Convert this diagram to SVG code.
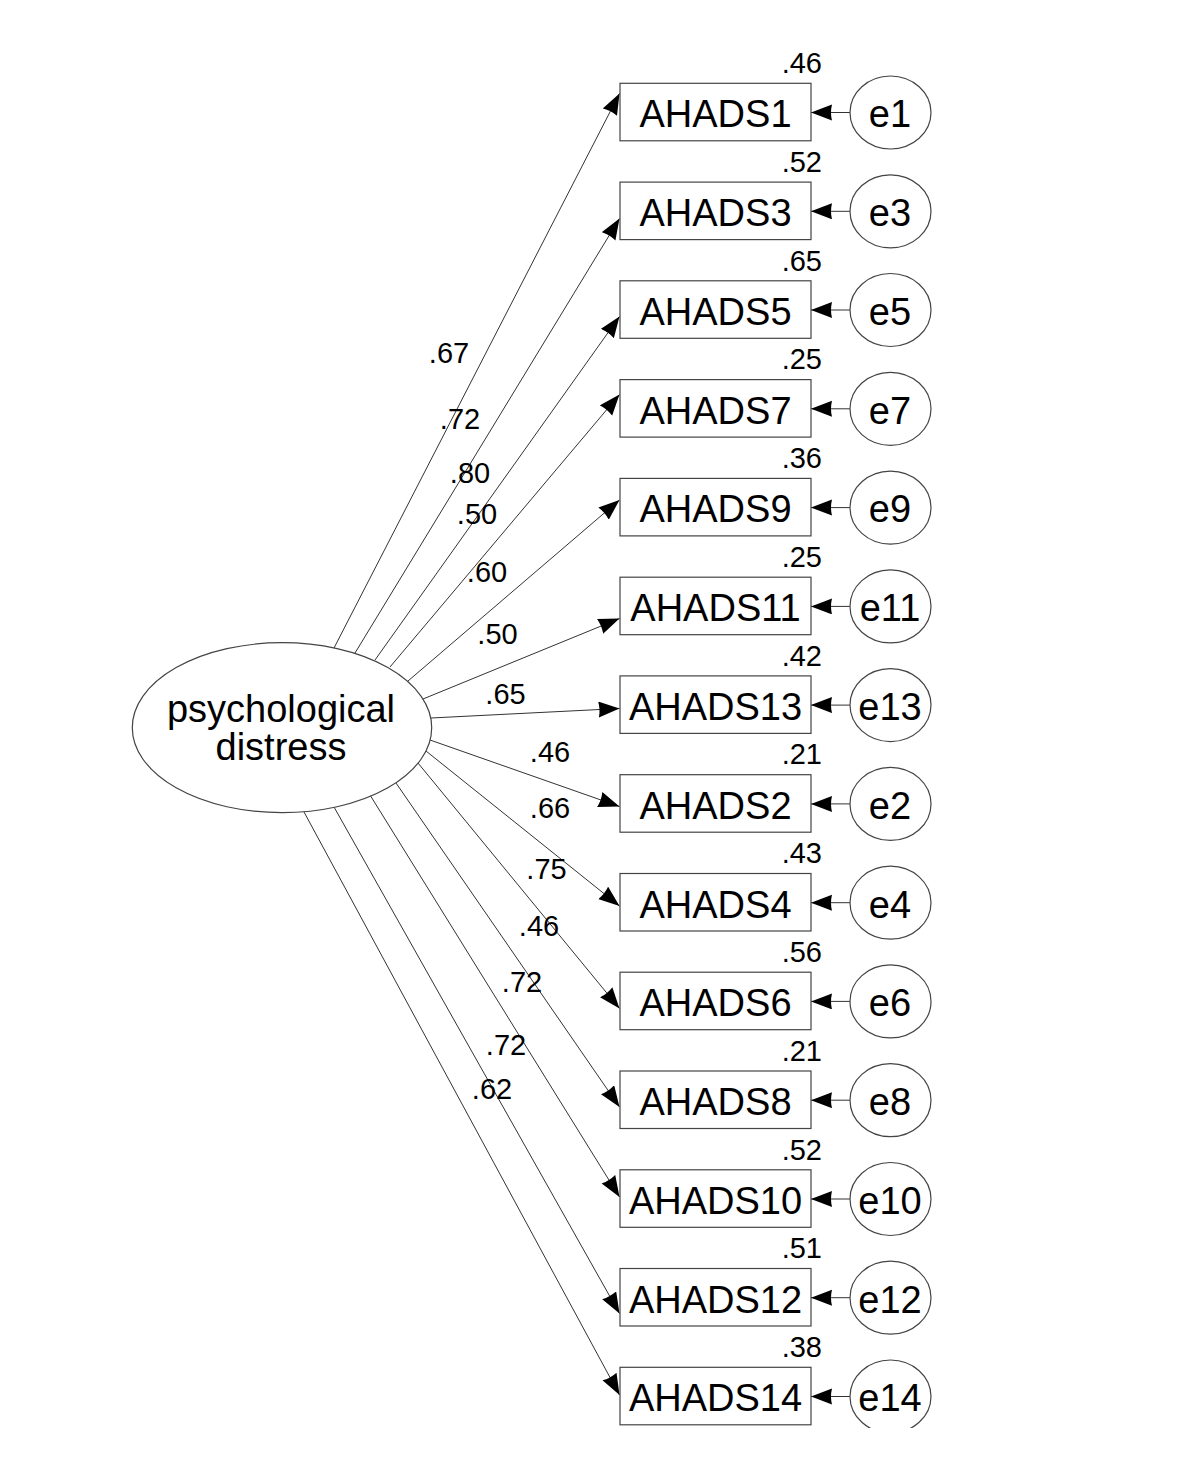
<svg xmlns="http://www.w3.org/2000/svg" width="1200" height="1480" viewBox="0 0 1200 1480">
<defs>
<style>
.box{fill:#fff;stroke:#444;stroke-width:1.2}
.err{fill:#fff;stroke:#444;stroke-width:1.2}
.lat{fill:#fff;stroke:#444;stroke-width:1.2}
.nm{font-family:"Liberation Sans",Arial,sans-serif;font-size:38px;fill:#000;text-anchor:middle}
.num{font-family:"Liberation Sans",Arial,sans-serif;font-size:29px;fill:#000;text-anchor:middle}
.r2{font-family:"Liberation Sans",Arial,sans-serif;font-size:29px;fill:#000;text-anchor:end}
.path{fill:none;stroke:#333;stroke-width:1;marker-end:url(#ah)}
</style>
<marker id="ah" markerUnits="userSpaceOnUse" markerWidth="22" markerHeight="18" refX="21" refY="8" orient="auto">
<path d="M0,0 L21,8 L0,16 Q2,8 0,0 z" fill="#000"/>
</marker>
<clipPath id="clipbottom"><rect x="0" y="0" width="1200" height="1428"/></clipPath>
</defs>
<rect width="1200" height="1480" fill="#fff"/>

<g id="connectors">
<line class="path" x1="334" y1="648" x2="619.5" y2="93.5"/>
<line class="path" x1="355" y1="653" x2="619.5" y2="218.5"/>
<line class="path" x1="375" y1="660" x2="619.5" y2="316.5"/>
<line class="path" x1="390" y1="667" x2="619.5" y2="394.5"/>
<line class="path" x1="408" y1="681" x2="619.5" y2="500"/>
<line class="path" x1="423" y1="699" x2="619.5" y2="618.5"/>
<line class="path" x1="431" y1="718" x2="619.5" y2="708.5"/>
<line class="path" x1="430" y1="740" x2="619.5" y2="806.5"/>
<line class="path" x1="426" y1="751" x2="619.5" y2="906"/>
<line class="path" x1="418" y1="763" x2="619.5" y2="1008.5"/>
<line class="path" x1="396" y1="783" x2="619.5" y2="1107"/>
<line class="path" x1="370" y1="795" x2="619.5" y2="1197"/>
<line class="path" x1="334" y1="807" x2="619.5" y2="1313.5"/>
<line class="path" x1="304" y1="812" x2="619.5" y2="1395"/>

<line class="path" x1="850" y1="112.5" x2="811" y2="112.5"/>
<line class="path" x1="850" y1="211.3" x2="811" y2="211.3"/>
<line class="path" x1="850" y1="310" x2="811" y2="310"/>
<line class="path" x1="850" y1="408.8" x2="811" y2="408.8"/>
<line class="path" x1="850" y1="507.6" x2="811" y2="507.6"/>
<line class="path" x1="850" y1="606.4" x2="811" y2="606.4"/>
<line class="path" x1="850" y1="705.1" x2="811" y2="705.1"/>
<line class="path" x1="850" y1="803.9" x2="811" y2="803.9"/>
<line class="path" x1="850" y1="902.7" x2="811" y2="902.7"/>
<line class="path" x1="850" y1="1001.4" x2="811" y2="1001.4"/>
<line class="path" x1="850" y1="1100.2" x2="811" y2="1100.2"/>
<line class="path" x1="850" y1="1199" x2="811" y2="1199"/>
<line class="path" x1="850" y1="1297.7" x2="811" y2="1297.7"/>
<line class="path" x1="850" y1="1396.5" x2="811" y2="1396.5"/>

<text class="num" x="449" y="363">.67</text>
<text class="num" x="460" y="429">.72</text>
<text class="num" x="470" y="483">.80</text>
<text class="num" x="477" y="524">.50</text>
<text class="num" x="487" y="582">.60</text>
<text class="num" x="497.5" y="644">.50</text>
<text class="num" x="505.5" y="704">.65</text>
<text class="num" x="550" y="762">.46</text>
<text class="num" x="550" y="818">.66</text>
<text class="num" x="546.5" y="879">.75</text>
<text class="num" x="539" y="936">.46</text>
<text class="num" x="522" y="992">.72</text>
<text class="num" x="506" y="1055">.72</text>
<text class="num" x="492" y="1099">.62</text>
</g>

<g id="psychological-distress">
<ellipse class="lat" cx="282" cy="727.7" rx="149.7" ry="85"/>
<text class="nm" x="281" y="722">psychological</text>
<text class="nm" x="281" y="759.5">distress</text>
</g>

<g id="AHADS1"><rect class="box" x="620" y="83.3" width="191" height="57.5"/><text class="nm" x="715.5" y="127.3">AHADS1</text><text class="r2" x="822" y="73">.46</text></g>
<g id="AHADS3"><rect class="box" x="620" y="182.1" width="191" height="57.5"/><text class="nm" x="715.5" y="226.1">AHADS3</text><text class="r2" x="822" y="171.8">.52</text></g>
<g id="AHADS5"><rect class="box" x="620" y="280.8" width="191" height="57.5"/><text class="nm" x="715.5" y="324.8">AHADS5</text><text class="r2" x="822" y="270.5">.65</text></g>
<g id="AHADS7"><rect class="box" x="620" y="379.6" width="191" height="57.5"/><text class="nm" x="715.5" y="423.6">AHADS7</text><text class="r2" x="822" y="369.3">.25</text></g>
<g id="AHADS9"><rect class="box" x="620" y="478.4" width="191" height="57.5"/><text class="nm" x="715.5" y="522.4">AHADS9</text><text class="r2" x="822" y="468.1">.36</text></g>
<g id="AHADS11"><rect class="box" x="620" y="577.2" width="191" height="57.5"/><text class="nm" x="715.5" y="621.2">AHADS11</text><text class="r2" x="822" y="566.9">.25</text></g>
<g id="AHADS13"><rect class="box" x="620" y="675.9" width="191" height="57.5"/><text class="nm" x="715.5" y="719.9">AHADS13</text><text class="r2" x="822" y="665.6">.42</text></g>
<g id="AHADS2"><rect class="box" x="620" y="774.7" width="191" height="57.5"/><text class="nm" x="715.5" y="818.7">AHADS2</text><text class="r2" x="822" y="764.4">.21</text></g>
<g id="AHADS4"><rect class="box" x="620" y="873.5" width="191" height="57.5"/><text class="nm" x="715.5" y="917.5">AHADS4</text><text class="r2" x="822" y="863.2">.43</text></g>
<g id="AHADS6"><rect class="box" x="620" y="972.2" width="191" height="57.5"/><text class="nm" x="715.5" y="1016.2">AHADS6</text><text class="r2" x="822" y="961.9">.56</text></g>
<g id="AHADS8"><rect class="box" x="620" y="1071" width="191" height="57.5"/><text class="nm" x="715.5" y="1115">AHADS8</text><text class="r2" x="822" y="1060.7">.21</text></g>
<g id="AHADS10"><rect class="box" x="620" y="1169.8" width="191" height="57.5"/><text class="nm" x="715.5" y="1213.8">AHADS10</text><text class="r2" x="822" y="1159.5">.52</text></g>
<g id="AHADS12"><rect class="box" x="620" y="1268.5" width="191" height="57.5"/><text class="nm" x="715.5" y="1312.5">AHADS12</text><text class="r2" x="822" y="1258.2">.51</text></g>
<g id="AHADS14"><rect class="box" x="620" y="1367.3" width="191" height="57.5"/><text class="nm" x="715.5" y="1411.3">AHADS14</text><text class="r2" x="822" y="1357">.38</text></g>

<g id="e1"><ellipse class="err" cx="890.5" cy="112.5" rx="40.5" ry="36.5"/><text class="nm" x="890" y="127.3">e1</text></g>
<g id="e3"><ellipse class="err" cx="890.5" cy="211.3" rx="40.5" ry="36.5"/><text class="nm" x="890" y="226.1">e3</text></g>
<g id="e5"><ellipse class="err" cx="890.5" cy="310" rx="40.5" ry="36.5"/><text class="nm" x="890" y="324.8">e5</text></g>
<g id="e7"><ellipse class="err" cx="890.5" cy="408.8" rx="40.5" ry="36.5"/><text class="nm" x="890" y="423.6">e7</text></g>
<g id="e9"><ellipse class="err" cx="890.5" cy="507.6" rx="40.5" ry="36.5"/><text class="nm" x="890" y="522.4">e9</text></g>
<g id="e11"><ellipse class="err" cx="890.5" cy="606.4" rx="40.5" ry="36.5"/><text class="nm" x="890" y="621.2">e11</text></g>
<g id="e13"><ellipse class="err" cx="890.5" cy="705.1" rx="40.5" ry="36.5"/><text class="nm" x="890" y="719.9">e13</text></g>
<g id="e2"><ellipse class="err" cx="890.5" cy="803.9" rx="40.5" ry="36.5"/><text class="nm" x="890" y="818.7">e2</text></g>
<g id="e4"><ellipse class="err" cx="890.5" cy="902.7" rx="40.5" ry="36.5"/><text class="nm" x="890" y="917.5">e4</text></g>
<g id="e6"><ellipse class="err" cx="890.5" cy="1001.4" rx="40.5" ry="36.5"/><text class="nm" x="890" y="1016.2">e6</text></g>
<g id="e8"><ellipse class="err" cx="890.5" cy="1100.2" rx="40.5" ry="36.5"/><text class="nm" x="890" y="1115">e8</text></g>
<g id="e10"><ellipse class="err" cx="890.5" cy="1199" rx="40.5" ry="36.5"/><text class="nm" x="890" y="1213.8">e10</text></g>
<g id="e12"><ellipse class="err" cx="890.5" cy="1297.7" rx="40.5" ry="36.5"/><text class="nm" x="890" y="1312.5">e12</text></g>
<g id="e14" clip-path="url(#clipbottom)"><ellipse class="err" cx="890.5" cy="1396.5" rx="40.5" ry="36.5"/><text class="nm" x="890" y="1411.3">e14</text></g>
</svg>
